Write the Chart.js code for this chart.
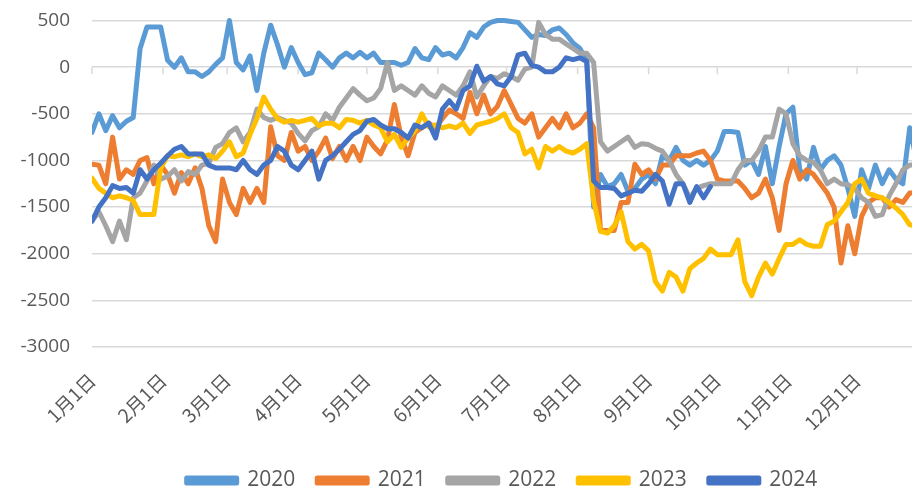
<!DOCTYPE html>
<html>
<head>
<meta charset="utf-8">
<script src="https://cdn.jsdelivr.net/npm/chart.js@4.4.1/dist/chart.umd.min.js"></script>
<style>
  html, body { margin: 0; padding: 0; background: #fff; overflow: hidden; }
  #wrap { width: 912px; height: 492px; }
</style>
</head>
<body>
<div id="wrap"><canvas id="chart" width="912" height="492"></canvas></div>
<script>
// ── datos (un punto cada 3 días desde el 1 de enero) ──
const STEP_DAYS = 3;

const MONTH_DAYS = [0, 31, 59, 90, 120, 151, 181, 212, 243, 273, 304, 334];
const MONTH_LABELS = ['1月1日', '2月1日', '3月1日', '4月1日', '5月1日', '6月1日',
  '7月1日', '8月1日', '9月1日', '10月1日', '11月1日', '12月1日'];

const Y_TICKS = [-3000, -2500, -2000, -1500, -1000, -500, 0, 500];

const SERIES_NAMES = ['2020', '2021', '2022', '2023', '2024'];
const SERIES_COLORS = ['#5B9BD5', '#ED7D31', '#A5A5A5', '#FFC000', '#4472C4'];

const Y_2020 = [
  -700, -500, -680, -520, -650, -580, -540, 200, 430, 430, 430, 75, 0, 100, -50, -50, -100, -50, 30, 100,
  500, 50, -30, 120, -250, 150, 450, 240, 0, 210, 50, -80, -60, 150, 80, 0, 100, 150, 100, 160,
  100, 150, 50, 50, 50, 20, 50, 200, 100, 80, 210, 130, 150, 100, 210, 370, 320, 430, 480, 500,
  500, 490, 480, 400, 320, 350, 340, 400, 420, 350, 260, 200, 75, -1500, -1150, -1280, -1250, -1150, -1330, -1300,
  -1200, -1150, -1250, -950, -1000, -860, -1000, -1050, -1000, -1050, -1000, -900, -690, -690, -700, -1050, -1000, -1150, -850, -1250,
  -850, -500, -430, -1100, -1200, -860, -1100, -1000, -950, -1050, -1300, -1600, -1100, -1300, -1050, -1250, -1100, -1200, -1250, -650,
  -1000
];

const Y_2021 = [
  -1040, -1050, -1250, -750, -1200, -1100, -1150, -1000, -970, -1250, -1050, -1150, -1350, -1130, -1250, -1080, -1300, -1700, -1870, -1200,
  -1450, -1580, -1300, -1450, -1300, -1450, -640, -950, -1000, -700, -900, -850, -1000, -900, -760, -980, -850, -1000, -850, -1000,
  -750, -850, -930, -780, -400, -750, -950, -700, -650, -600, -650, -550, -460, -500, -550, -270, -500, -300, -500, -420,
  -250, -400, -550, -600, -500, -750, -650, -550, -650, -500, -650, -600, -500, -650, -1750, -1750, -1750, -1450, -1450, -1040,
  -1150, -1100, -1200, -1050, -1050, -950, -950, -950, -920, -900, -1000, -1200, -1220, -1220, -1220, -1300, -1400, -1350, -1200, -1400,
  -1750, -1250, -1000, -1200, -1100, -1150, -1250, -1350, -1500, -2100, -1700, -2000, -1600, -1450, -1400, -1400, -1500, -1420, -1450, -1350,
  -1350
];

const Y_2022 = [
  -1650, -1550, -1700, -1870, -1650, -1850, -1400, -1350, -1220, -1050, -1200, -1170, -1100, -1220, -1120, -1150, -1050, -1030, -860, -820,
  -700, -650, -800, -700, -450, -540, -570, -540, -570, -600, -710, -790, -680, -640, -500, -570, -430, -330, -230, -300,
  -360, -330, -230, 50, -250, -200, -250, -300, -200, -280, -320, -200, -250, -300, -200, -50, -320, -200, -100, -120,
  -70, -100, -140, -20, 0, 480, 350, 300, 300, 250, 200, 150, 150, 50, -800, -900, -850, -800, -750, -860,
  -820, -830, -870, -900, -1000, -1150, -1250, -1400, -1300, -1270, -1250, -1250, -1250, -1250, -1100, -1000, -1000, -900, -750, -750,
  -450, -500, -820, -950, -1000, -1020, -1100, -1250, -1200, -1250, -1260, -1300, -1400, -1450, -1600, -1580, -1380, -1250, -1100, -1050,
  -1050
];

const Y_2023 = [
  -1190, -1300, -1350, -1400, -1380, -1400, -1430, -1580, -1580, -1580, -1080, -950, -960, -940, -960, -930, -960, -940, -980, -900,
  -800, -960, -920, -720, -550, -320, -450, -550, -590, -570, -590, -570, -550, -630, -600, -600, -650, -560, -570, -600,
  -570, -620, -650, -800, -720, -860, -760, -680, -500, -640, -620, -650, -630, -650, -600, -710, -620, -600, -580, -550,
  -500, -650, -700, -930, -880, -1080, -850, -900, -850, -900, -920, -880, -820, -1430, -1760, -1780, -1700, -1550, -1870, -1950,
  -1900, -1970, -2300, -2400, -2200, -2250, -2400, -2160, -2100, -2050, -1950, -2010, -2010, -2010, -1850, -2300, -2450, -2250, -2100, -2220,
  -2050, -1900, -1900, -1850, -1900, -1920, -1920, -1690, -1650, -1550, -1450, -1250, -1200, -1350, -1380, -1400, -1450, -1510, -1580, -1690,
  -1700
];

const Y_2024 = [
  -1650, -1500, -1400, -1270, -1300, -1290, -1350, -1100, -1200, -1100, -1030, -950, -880, -850, -930, -930, -930, -1050, -1080, -1080,
  -1080, -1100, -1000, -1100, -1150, -1050, -1000, -850, -900, -1050, -1100, -1000, -900, -1200, -1000, -950, -880, -800, -720, -680,
  -580, -560, -620, -660, -660, -700, -760, -620, -650, -600, -760, -450, -360, -450, -250, -200, 10, -150, -100, -180,
  -200, -100, 130, 150, 20, 0, -50, -50, 0, 100, 80, 100, 60, -1220, -1290, -1290, -1300, -1380, -1350, -1320,
  -1330, -1250, -1150, -1220, -1470, -1250, -1250, -1450, -1280, -1400, -1280
];

// la imagen está recortada por arriba y a la derecha
const Y_MIN = -3000;
const Y_MAX = 720;
const X_MAX_DAY = 358;

// ── construcción de datasets ──
const ALL_SERIES = [Y_2020, Y_2021, Y_2022, Y_2023, Y_2024];

const datasets = ALL_SERIES.map((vals, i) => ({
  label: SERIES_NAMES[i],
  data: vals.map((v, k) => ({ x: k * STEP_DAYS, y: v })),
  borderColor: SERIES_COLORS[i],
  backgroundColor: SERIES_COLORS[i],
  borderWidth: 5,
  pointRadius: 0,
  pointHoverRadius: 0,
  tension: 0,
  borderJoinStyle: 'round',
  borderCapStyle: 'round',
  order: ALL_SERIES.length - 1 - i   // 2024 encima
}));

// marcas cortas sobre la línea del cero (como en Excel)
const zeroTicks = {
  id: 'zeroTicks',
  beforeDatasetsDraw(chart) {
    const { ctx, scales: { x, y } } = chart;
    const y0 = y.getPixelForValue(0);
    ctx.save();
    ctx.strokeStyle = '#D9D9D9';
    ctx.lineWidth = 1.5;
    MONTH_DAYS.forEach(d => {
      const px = x.getPixelForValue(d);
      ctx.beginPath();
      ctx.moveTo(px, y0);
      ctx.lineTo(px, y0 + 7);
      ctx.stroke();
    });
    ctx.restore();
  }
};

Chart.defaults.font.family = '"Open Sans", "Noto Sans", sans-serif';
Chart.defaults.color = '#595959';

new Chart(document.getElementById('chart'), {
  type: 'line',
  data: { datasets },
  plugins: [zeroTicks],
  options: {
    responsive: false,
    animation: false,
    devicePixelRatio: 1,
    layout: { padding: 0 },
    plugins: {
      tooltip: { enabled: false },
      legend: {
        position: 'bottom',
        fullSize: false,
        maxHeight: 44,
        labels: {
          boxWidth: 50,
          boxHeight: 5,
          padding: 22,
          color: '#595959',
          font: { size: 21 },
          sort: (a, b) => a.datasetIndex - b.datasetIndex
        }
      }
    },
    scales: {
      x: {
        type: 'linear',
        min: 0,
        max: X_MAX_DAY,
        grid: { display: false, drawTicks: false },
        border: { display: false },
        afterBuildTicks: scale => { scale.ticks = MONTH_DAYS.map(v => ({ value: v })); },
        afterFit: scale => { scale.height = 101; },
        ticks: {
          autoSkip: false,
          maxRotation: 45,
          minRotation: 45,
          padding: 22,
          color: '#595959',
          font: { family: '"Noto Sans CJK SC", "Noto Sans", sans-serif', size: 19 },
          callback: (value, index) => MONTH_LABELS[index]
        }
      },
      y: {
        min: Y_MIN,
        max: Y_MAX,
        // tick extra (sin etiqueta) en el borde superior
        afterBuildTicks: scale => { scale.ticks = [...Y_TICKS, Y_MAX].map(v => ({ value: v })); },
        afterFit: scale => {
          scale.width = 92;
          scale.paddingTop = 0;   // el gráfico empieza en el borde superior
        },
        grid: { color: '#D9D9D9', lineWidth: 1.5, drawTicks: true, tickLength: 22, tickColor: 'rgba(0,0,0,0)' },
        border: { display: false },
        ticks: {
          autoSkip: false,
          padding: 0,
          color: '#595959',
          font: { size: 19 },
          callback: value => (Y_TICKS.includes(value) ? value : null)
        }
      }
    }
  }
});
</script>
</body>
</html>
